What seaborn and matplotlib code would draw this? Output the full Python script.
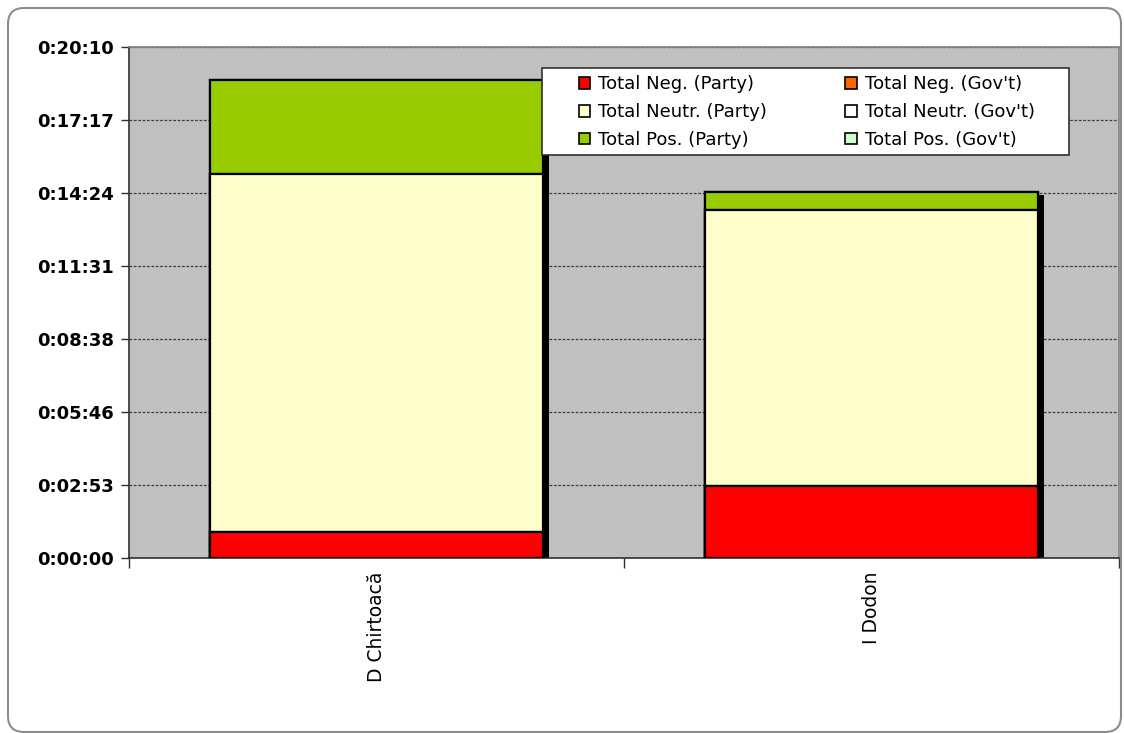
import numpy as np
import pandas as pd
import seaborn as sns
import matplotlib.pyplot as plt
import matplotlib.patheffects as pe
from matplotlib.patches import Patch, FancyBboxPatch, Rectangle
from matplotlib.ticker import FuncFormatter, MultipleLocator
from matplotlib.transforms import IdentityTransform

# durations in seconds
candidates = ['D Chirtoacă', 'I Dodon']
neg_party = [62, 170]
neg_govt = [0, 0]
neutr_party = [847, 654]
neutr_govt = [0, 0]
pos_party = [222, 42]
pos_govt = [0, 0]

series_names = ['Total Neg. (Party)', 'Total Neg. (Gov\'t)',
                'Total Neutr. (Party)', 'Total Neutr. (Gov\'t)',
                'Total Pos. (Party)', 'Total Pos. (Gov\'t)']
series_colors = ['#FF0000', '#FF6600', '#FFFFCC', '#FFFFFF', '#99CC00', '#CCFFCC']

df = pd.DataFrame({'cand': candidates,
                   series_names[0]: neg_party, series_names[1]: neg_govt,
                   series_names[2]: neutr_party, series_names[3]: neutr_govt,
                   series_names[4]: pos_party, series_names[5]: pos_govt})
cum = df[series_names].cumsum(axis=1)
df['total'] = cum[series_names[-1]]

sns.set_style('ticks')
plt.rcParams['font.family'] = ['DejaVu Sans']

fig = plt.figure(figsize=(11.24, 7.33), dpi=100)
ax = fig.add_axes([129 / 1124, 1 - 558 / 733, 990 / 1124, 511 / 733])
ax.set_facecolor('#C0C0C0')

bw = 0.673
# shadow behind the whole stack
sns.barplot(data=df, x='cand', y='total', color='black', width=bw, saturation=1,
            ax=ax, zorder=2)
for p in ax.patches:
    p.set_path_effects([pe.SimplePatchShadow(offset=(4.3, -2.2), shadow_rgbFace='black', alpha=1)])

# stacked segments, tallest cumulative first
for name, col in reversed(list(zip(series_names, series_colors))):
    sns.barplot(x=df['cand'], y=cum[name], color=col, width=bw, saturation=1,
                edgecolor='black', linewidth=1.6, ax=ax, zorder=3)

ax.set_xlim(-0.5, 1.5)
ax.set_ylim(0, 1209.6)
ax.set_xlabel('')
ax.set_ylabel('')

def hms(v, pos):
    s = int(round(v))
    return '%d:%02d:%02d' % (s // 3600, (s % 3600) // 60, s % 60)

ax.yaxis.set_major_locator(MultipleLocator(172.8))
ax.yaxis.set_major_formatter(FuncFormatter(hms))
ax.yaxis.grid(True, linestyle=(0, (2.2, 1.3)), color='#404040', linewidth=0.9)
ax.set_axisbelow(True)
for lab in ax.get_yticklabels():
    lab.set_fontweight('bold')
ax.tick_params(axis='y', labelsize=13, length=6, width=1, color='#303030', pad=5,
               labelcolor='black')

ax.set_xticks([0, 1])
ax.set_xticklabels(candidates, rotation=90, fontsize=13.5, va='top', ha='center')
ax.tick_params(axis='x', length=0, pad=10, labelcolor='black')
ax.set_xticks([-0.5, 0.5, 1.5], minor=True)
ax.tick_params(axis='x', which='minor', length=7, width=1, color='#303030')

for side in ['left', 'bottom']:
    ax.spines[side].set_color('#303030')
    ax.spines[side].set_linewidth(1.2)
for side in ['top', 'right']:
    ax.spines[side].set_visible(True)
    ax.spines[side].set_color('#808080')
    ax.spines[side].set_linewidth(1.2)

# legend box and entries
ax.add_patch(Rectangle((0.4172, 0.7886), 0.5323, 0.1703, transform=ax.transAxes,
                       facecolor='white', edgecolor='#303030', linewidth=1.2,
                       zorder=9, clip_on=False))
handles = [Patch(facecolor=series_colors[i], edgecolor='black', linewidth=1.2, label=series_names[i])
           for i in [0, 2, 4, 1, 3, 5]]
leg = ax.legend(handles=handles, ncol=2, loc='upper left', bbox_to_anchor=(0.4545, 0.945),
                fontsize=13, frameon=False,
                handlelength=0.62, handleheight=0.62, handletextpad=0.45,
                columnspacing=4.33, labelspacing=0.55, borderpad=0, borderaxespad=0)
for t in leg.get_texts():
    t.set_color('black')
leg.set_zorder(10)

# rounded outer border of the chart
fig.patches.append(FancyBboxPatch((8, 1), 1113, 724, boxstyle='round,pad=0,rounding_size=16',
                                  transform=IdentityTransform(), facecolor='none',
                                  edgecolor='#8C8C8C', linewidth=1.5))

fig.savefig('out.png', dpi=100)
